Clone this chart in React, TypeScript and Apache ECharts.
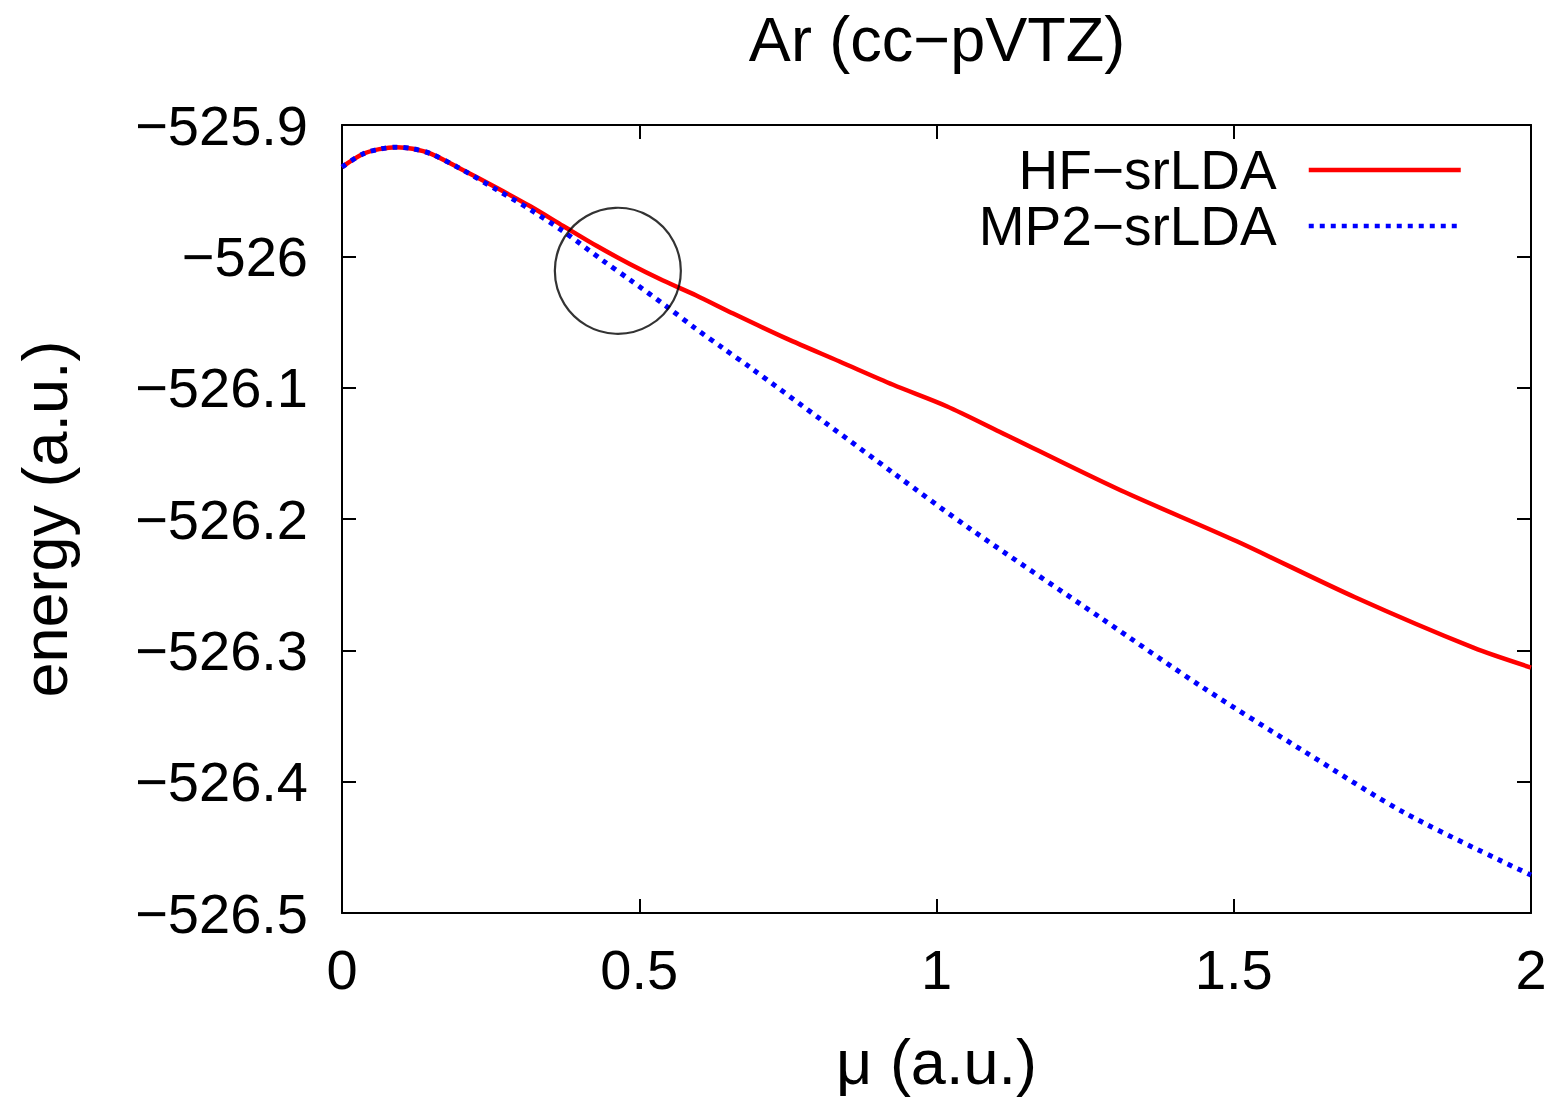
import React, { useEffect, useRef } from "react";
import * as echarts from "echarts";

const FONT = "'Liberation Sans', Arial, Helvetica, sans-serif";

const titleText = "Ar (cc−pVTZ)";
const xName = "μ (a.u.)";
const yName = "energy (a.u.)";
const seriesNames = ["HF−srLDA", "MP2−srLDA"];

const xTicks = { min: 0, max: 2, interval: 0.5 };
const yTicks = { min: -526.5, max: -525.9, interval: 0.1 };

const muHF = [0, 0.035, 0.063, 0.092, 0.119, 0.15, 0.2, 0.26, 0.316, 0.372, 0.428, 0.484, 0.54, 0.596, 0.658, 0.747, 0.837, 0.927, 1.017, 1.106, 1.305, 1.505, 1.704, 1.903, 2.0];
const eHF = [-525.932, -525.9221, -525.9184, -525.9169, -525.9181, -525.922, -525.9335, -525.9478, -525.9617, -525.9769, -525.992, -526.0058, -526.0184, -526.0298, -526.0436, -526.0625, -526.0801, -526.0978, -526.1141, -526.1335, -526.1772, -526.217, -526.2596, -526.298, -526.3131];

const muMP2 = [0, 0.035, 0.063, 0.092, 0.119, 0.15, 0.2, 0.26, 0.316, 0.372, 0.439, 0.486, 0.547, 0.593, 0.641, 0.686, 0.809, 0.932, 1.056, 1.277, 1.448, 1.619, 1.79, 2.0];
const eMP2 = [-525.932, -525.9221, -525.9184, -525.9169, -525.9181, -525.922, -525.9335, -525.9492, -525.9642, -525.9809, -526.0033, -526.0184, -526.0385, -526.0544, -526.07, -526.0844, -526.1254, -526.1665, -526.2073, -526.2755, -526.3283, -526.3771, -526.4244, -526.4711];

const circleCenter = [0.464, -526.011];

function pairs(xs: number[], ys: number[]) {
  return xs.map((x, i) => [x, ys[i]]);
}

function fmtY(v: number) {
  const r = Math.round(v * 10) / 10;
  return String(r).replace("-", "−");
}

export default function App() {
  const ref = useRef<HTMLDivElement>(null);
  useEffect(() => {
    if (!ref.current) return;
    const chart = echarts.init(ref.current, undefined, { renderer: "svg" });
    const axisLine = { show: true, onZero: false, lineStyle: { color: "#000", width: 2 } };
    const axisTick = { show: true, inside: true, length: 14, lineStyle: { color: "#000", width: 2 } };
    const tickLabel = { color: "#000", fontSize: 56, fontFamily: FONT };
    const nameStyle = { color: "#000", fontSize: 63, fontFamily: FONT };
    chart.setOption({
      animation: false,
      backgroundColor: "#fff",
      title: {
        text: titleText,
        left: 937,
        top: 7,
        textAlign: "center",
        padding: 0,
        textStyle: { color: "#000", fontSize: 63, fontWeight: "normal", fontFamily: FONT, lineHeight: 63 },
      },
      grid: { left: 342, right: 27, top: 125, bottom: 179, containLabel: false },
      legend: {
        data: seriesNames,
        orient: "vertical",
        right: 95,
        top: 142,
        align: "right",
        padding: 0,
        itemGap: 0,
        itemWidth: 152,
        itemHeight: 56,
        itemStyle: { opacity: 0 },
        lineStyle: { width: 4.5 },
        textStyle: { color: "#000", fontSize: 55, lineHeight: 56, fontFamily: FONT, padding: [0, 27, 0, 0] },
      },
      xAxis: [
        {
          type: "value",
          ...xTicks,
          position: "bottom",
          axisLine,
          axisTick,
          splitLine: { show: false },
          axisLabel: { ...tickLabel, margin: 28 },
          name: xName,
          nameLocation: "middle",
          nameGap: 117,
          nameTextStyle: nameStyle,
        },
        {
          type: "value",
          ...xTicks,
          position: "top",
          axisLine,
          axisTick,
          splitLine: { show: false },
          axisLabel: { show: false },
        },
      ],
      yAxis: [
        {
          type: "value",
          ...yTicks,
          position: "left",
          axisLine,
          axisTick,
          splitLine: { show: false },
          axisLabel: { ...tickLabel, margin: 34, formatter: fmtY },
          name: yName,
          nameLocation: "middle",
          nameRotate: 90,
          nameGap: 266,
          nameTextStyle: nameStyle,
        },
        {
          type: "value",
          ...yTicks,
          position: "right",
          axisLine,
          axisTick,
          splitLine: { show: false },
          axisLabel: { show: false },
        },
      ],
      series: [
        {
          name: seriesNames[0],
          type: "line",
          data: pairs(muHF, eHF),
          symbol: "none",
          smooth: 0.3,
          lineStyle: { color: "#ff0000", width: 4.5 },
          itemStyle: { color: "#ff0000" },
          z: 2,
        },
        {
          name: seriesNames[1],
          type: "line",
          data: pairs(muMP2, eMP2),
          symbol: "none",
          smooth: 0.3,
          lineStyle: { color: "#0000ff", width: 5, type: [5, 6] },
          itemStyle: { color: "#0000ff" },
          z: 3,
        },
        {
          name: "circle",
          type: "scatter",
          data: [circleCenter],
          symbol: "circle",
          symbolSize: 126,
          itemStyle: { color: "rgba(0,0,0,0)", borderColor: "#000", borderWidth: 2.2 },
          silent: true,
          z: 4,
        },
      ],
    });
    return () => chart.dispose();
  }, []);
  return <div ref={ref} style={{ position: "fixed", left: 0, top: 0, width: 1558, height: 1098 }} />;
}
